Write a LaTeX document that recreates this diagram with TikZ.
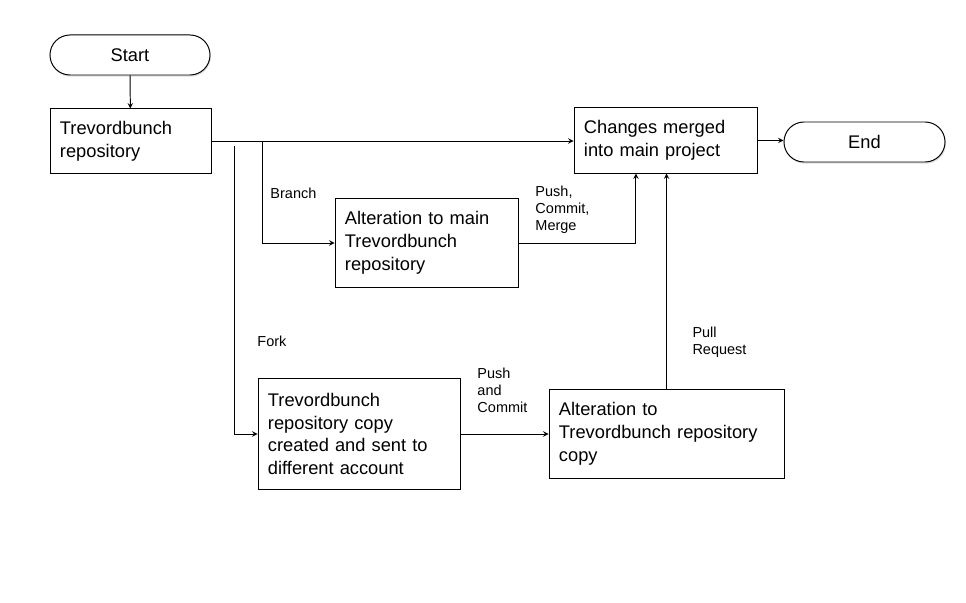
\documentclass[tikz,border=0pt]{standalone}
\usepackage{fontspec}
\setmainfont{Liberation Sans}
\usetikzlibrary{arrows, positioning, shadows}

\begin{document}
\begin{tikzpicture}[
    x=0.025cm, y=-0.025cm,
    line width=0.7pt,
    box/.style={rectangle, draw, inner xsep=7.1pt, inner ysep=0pt, align=left, font=\fontsize{13}{16.3}\selectfont},
    terminal/.style={rectangle, draw, rounded corners=0.5cm, minimum width=4cm, minimum height=1cm, fill=white, font=\fontsize{13}{16.3}\selectfont, drop shadow={shadow xshift=0.6pt, shadow yshift=-1.2pt, opacity=0.25}},
    arrow/.style={->, >=stealth},
    label/.style={anchor=north west, inner sep=0pt, align=left, font=\fontsize{10.3}{12}\selectfont}
]
\useasboundingbox (0,0) rectangle (966,603);

% Nodes
\node[terminal] (start) at (130,55) {Start};
\node[box, text width=3.525cm, minimum height=1.6cm] (repo) at (130.5,141) {Trevordbunch\\repository};
\node[box, text width=4.075cm, minimum height=1.625cm] (merged) at (665.5,140.5) {Changes merged\\into main project};
\node[terminal, minimum width=4.025cm] (finish) at (864.5,142) {End};
\node[box, text width=4.075cm, minimum height=2.2cm] (altmain) at (426.5,243) {Alteration to main\\Trevordbunch\\repository};
\node[box, text width=4.55cm, minimum height=2.75cm] (copy) at (359,434) {Trevordbunch\\repository copy\\created and sent to\\different account};
\node[box, text width=5.375cm, minimum height=2.2cm] (altcopy) at (666.5,434) {Alteration to\\Trevordbunch repository\\copy};

\coordinate (branchpt) at (262,141);
\coordinate (forkpt) at (234,146);

% Arrows
\draw[arrow] (start) -- (repo);
\draw[arrow] (repo.east) -- (repo.east -| merged.west);
\draw[arrow] (merged.east) -- (merged.east -| finish.west);
\draw[arrow] (branchpt) |- (altmain.west);
\draw[arrow] (altmain.east) -| ([xshift=-0.74cm]merged.south);
\draw[arrow] (forkpt) |- (copy.west);
\draw[arrow] (copy.east) -- (copy.east -| altcopy.west);
\draw[arrow] (altcopy.north) -- (altcopy.north |- merged.south);

% Labels
\node[label] (branchlbl) at (270,188) {Branch};
\node[label] (mergelbl) at (535,186) {Push,\\Commit,\\Merge};
\node[label] (forklbl) at (257,336) {Fork};
\node[label] (commitlbl) at (477,368) {Push\\and\\Commit};
\node[label] (pulllbl) at (692,327) {Pull\\Request};

\end{tikzpicture}
\end{document}
